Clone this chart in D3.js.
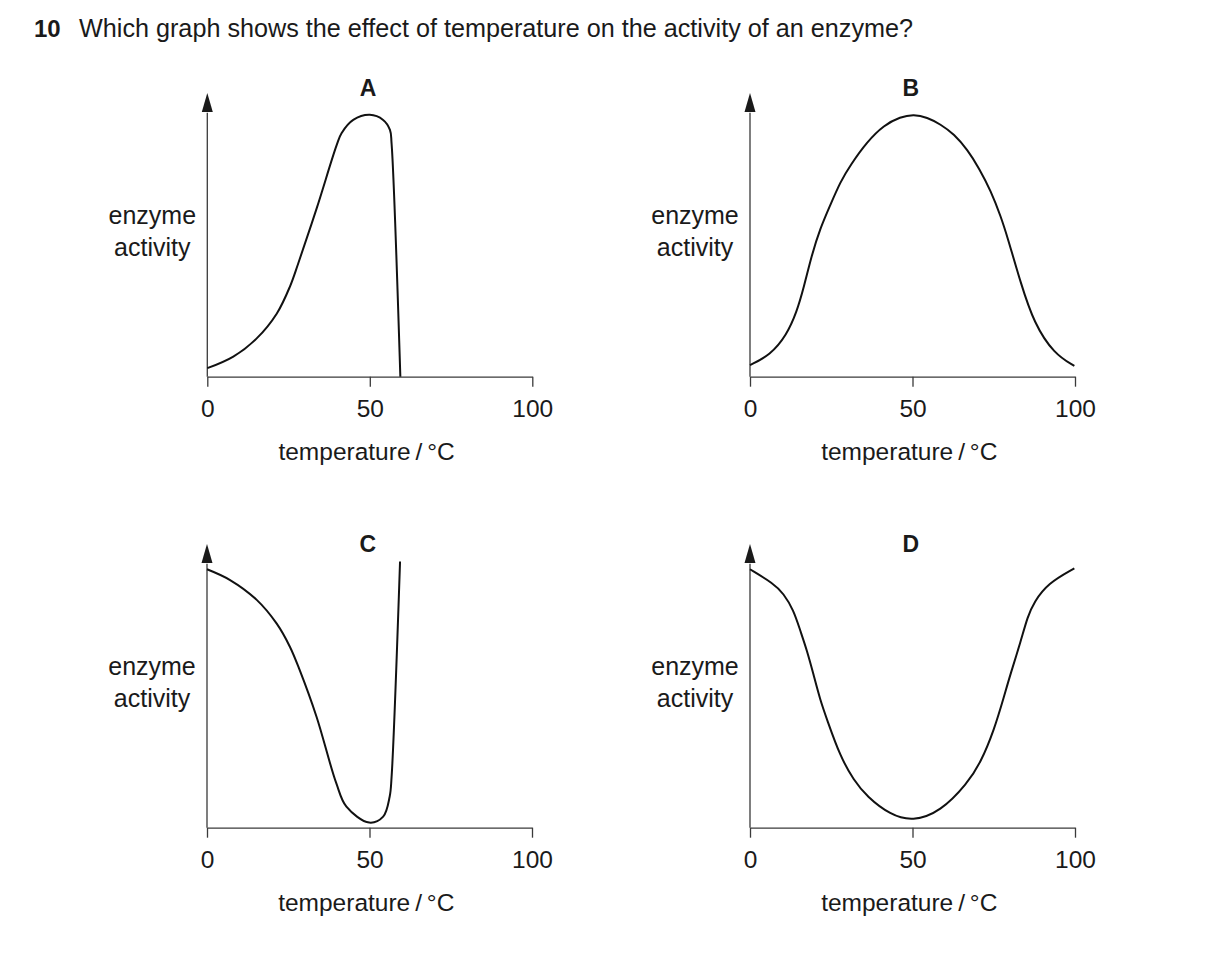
<!DOCTYPE html>
<html>
<head>
<meta charset="utf-8">
<script src="https://cdn.jsdelivr.net/npm/d3@7"></script>
<style>
  body { margin: 0; background: #fff; }
  text { font-family: "Liberation Sans", Arial, Helvetica, sans-serif; fill: #1a1a1a; }
</style>
</head>
<body>
<script>
// curve readings, temperature (°C) against activity (0 = x axis, 100 = arrow tip)
let tempA = [0, 8, 15.2, 21.4, 25.4, 28, 33.7, 39.8, 41.3, 44.9, 50, 54.1, 56.2, 56.7, 59.4];
let actA  = [3, 7.1, 13.5, 22.3, 31.7, 40, 59.5, 81.6, 85.8, 90.5, 92.3, 90.5, 87, 82.2, 0];

let tempB = [0, 6.2, 11.3, 14.4, 16.5, 19, 21.6, 24.7, 27.8, 30.9, 36, 41.2, 46.3, 50.4,
             54.5, 58.6, 62.8, 66.9, 70.5, 74.1, 77.2, 79.2, 83.3, 87.4, 93.6, 99.8];
let actB  = [4.1, 7.6, 14.7, 22.9, 31.2, 42.9, 52.3, 60.5, 68.7, 74.6, 82.8, 88.7, 91.6, 92.5,
             91.4, 89, 85.5, 80, 73.5, 65.5, 56.4, 49.3, 33, 18.8, 8, 3.8];

let tempC = [0, 7.1, 15.3, 21.4, 25.5, 28.5, 33.7, 39.8, 42.9, 49.9, 54.2, 56.2, 56.8, 59.4];
let actC  = [91.1, 87.3, 80.3, 72, 63.8, 55.6, 39.1, 15.6, 7.4, 1.8, 3.9, 10.9, 18, 93.8];

let tempD = [0, 7.2, 10.3, 13.4, 15.4, 17.5, 19.5, 21.6, 23.7, 27.8, 31.9, 36, 43.2, 50,
             58.6, 66.9, 71, 75.1, 78.2, 80.2, 83.3, 85.4, 87.4, 91.6, 99.8];
let actD  = [91.1, 86.1, 82.6, 76.7, 69.7, 62.6, 54.2, 45, 38.1, 25, 16.8, 10.9, 4.5, 2.2,
             5.6, 15.6, 23, 34.4, 46.4, 54.4, 65.6, 74.4, 79.5, 86.1, 91.4];

let panelNames = ["A", "B", "C", "D"];
let tickValues = [0, 50, 100];
let questionNumber = "10";
let questionText = "Which graph shows the effect of temperature on the activity of an enzyme?";
let yLabel = ["enzyme", "activity"];
let xLabel = "temperature\u2009/\u2009°C";

let curves = [[tempA, actA], [tempB, actB], [tempC, actC], [tempD, actD]];
// A and C have sharp corners, B and D are smooth bells
let curveTypes = [d3.curveCatmullRom.alpha(0.5), d3.curveBasis, d3.curveCatmullRom.alpha(0.5), d3.curveBasis];

const svg = d3.select("body")
  .append("svg")
  .attr("width", 1209)
  .attr("height", 970);

svg.append("rect")
  .attr("width", 1209)
  .attr("height", 970)
  .attr("fill", "#fff");

svg.append("text")
  .attr("x", 34)
  .attr("y", 37)
  .attr("font-size", "24px")
  .attr("font-weight", "bold")
  .text(questionNumber);

svg.append("text")
  .attr("x", 79)
  .attr("y", 37)
  .attr("font-size", "25.2px")
  .text(questionText);

// origin of each panel (left end of x axis)
let origins = [[207.3, 376.7], [750, 376.7], [207, 827.7], [750, 827.7]];
let plotW = 325;
let plotH = 283.7;

origins.forEach(function(o, i) {
  const g = svg.append("g")
    .attr("transform", "translate(" + o[0] + "," + (o[1] - plotH) + ")");

  const x = d3.scaleLinear().domain([0, 100]).range([0, plotW]);
  const y = d3.scaleLinear().domain([0, 100]).range([plotH, 0]);

  // x axis
  const xAxis = g.append("g")
    .attr("transform", "translate(0," + plotH + ")")
    .call(d3.axisBottom(x)
      .tickValues(tickValues)
      .tickSize(10)
      .tickSizeOuter(0)
      .tickPadding(13));

  xAxis.select(".domain").attr("stroke", "#3a3a3a").attr("stroke-width", 1.3);
  xAxis.selectAll(".tick line").attr("stroke", "#3a3a3a").attr("stroke-width", 1.3);
  xAxis.selectAll(".tick text")
    .attr("font-size", "24.5px")
    .attr("font-family", "\"Liberation Sans\", Arial, sans-serif")
    .attr("fill", "#1a1a1a");

  // y axis with arrow head
  g.append("line")
    .attr("x1", x(0))
    .attr("x2", x(0))
    .attr("y1", y(0))
    .attr("y2", y(93))
    .attr("stroke", "#3a3a3a")
    .attr("stroke-width", 1.3);

  g.append("path")
    .attr("d", "M" + x(0) + "," + y(100) +
      "L" + (x(0) - 5.5) + "," + y(93.3) +
      "L" + (x(0) + 5.5) + "," + y(93.3) + "Z")
    .attr("fill", "#1a1a1a");

  // panel letter
  g.append("text")
    .attr("x", x(49.5))
    .attr("y", y(100) + (i < 2 ? 3 : 8))
    .attr("text-anchor", "middle")
    .attr("font-size", "23px")
    .attr("font-weight", "bold")
    .text(panelNames[i]);

  // axis titles
  const yl = g.append("text")
    .attr("x", x(0) - 55)
    .attr("y", y(0) - 153)
    .attr("text-anchor", "middle")
    .attr("font-size", "25px");
  yl.append("tspan").attr("x", x(0) - 55).text(yLabel[0]);
  yl.append("tspan").attr("x", x(0) - 55).attr("dy", 32).text(yLabel[1]);

  g.append("text")
    .attr("x", x(49))
    .attr("y", y(0) + 83)
    .attr("text-anchor", "middle")
    .attr("font-size", "24.5px")
    .text(xLabel);

  // the curve
  const pts = curves[i][0].map(function(t, k) { return [t, curves[i][1][k]]; });
  const line = d3.line()
    .x(function(d) { return x(d[0]); })
    .y(function(d) { return y(d[1]); })
    .curve(curveTypes[i]);

  g.append("path")
    .datum(pts)
    .attr("d", line)
    .attr("fill", "none")
    .attr("stroke", "#111")
    .attr("stroke-width", 2);
});
</script>
</body>
</html>
